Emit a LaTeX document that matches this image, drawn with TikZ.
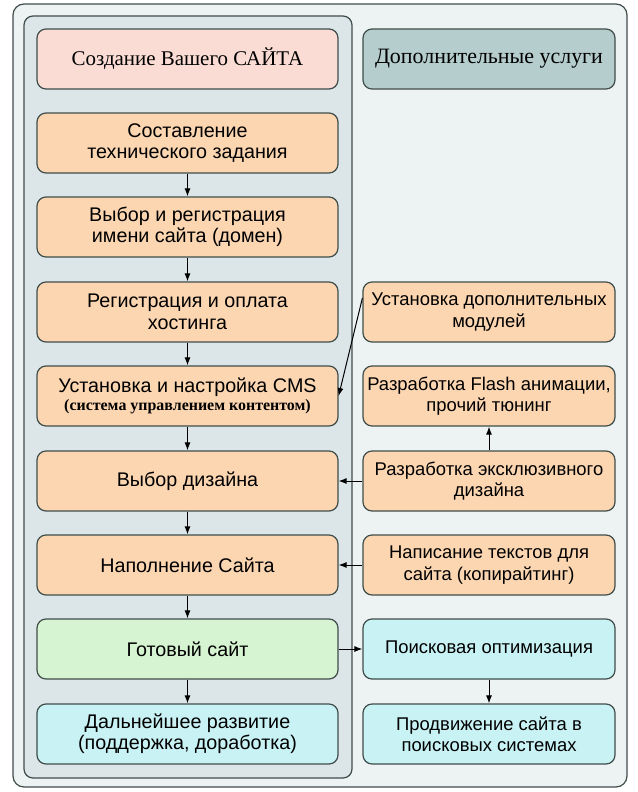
\documentclass[tikz,border=0pt]{standalone}
\usepackage{fontspec}
\setmainfont{Liberation Sans}
\newfontfamily\headfont{Liberation Serif}
\usetikzlibrary{arrows.meta}

\definecolor{outerfill}{HTML}{EDF2F3}
\definecolor{panelfill}{HTML}{DCE6E8}
\definecolor{frame}{HTML}{3F4D4B}
\definecolor{pinkfill}{HTML}{FADCD4}
\definecolor{greyfill}{HTML}{B6CDCD}
\definecolor{peachfill}{HTML}{FCD6B1}
\definecolor{greenfill}{HTML}{D6F4D1}
\definecolor{cyanfill}{HTML}{C9F2F5}

\tikzset{
  box/.style={draw=frame, line width=1.2bp, rounded corners=9bp,
    minimum height=60bp, align=center, text=black,
    font=\fontsize{19.8}{21.5}\selectfont},
  leftbox/.style={box, minimum width=301bp},
  rightbox/.style={box, minimum width=252bp, font=\fontsize{18.5}{21.5}\selectfont}
}

\begin{document}
\begin{tikzpicture}[x=1bp,y=-1bp]

      \useasboundingbox (0,0) rectangle (638,792);

      % background panels
      \draw[frame, line width=1.2bp, fill=outerfill, rounded corners=11bp] (13,4) rectangle (627,787);
      \draw[frame, line width=1.2bp, fill=panelfill, rounded corners=9bp] (24,16) rectangle (352,778);

      \begin{scope}[every node/.style={leftbox, fill=peachfill}]
        \node[fill=pinkfill, font=\headfont\fontsize{21}{23}\selectfont] (1) at (187.5,59) {Создание Вашего САЙТА};
        \node (2) at (187.5,143) {Составление\\технического задания};
        \node (3) at (187.5,227) {Выбор и регистрация\\имени сайта (домен)};
        \node (4) at (187.5,312) {Регистрация и оплата\\хостинга};
        \node (5) at (187.5,396) {Установка и настройка CMS\\[-3bp]{\headfont\bfseries\fontsize{16}{18}\selectfont(система управлением контентом)}};
        \node (6) at (187.5,481) {Выбор дизайна};
        \node (7) at (187.5,565) {Наполнение Сайта};
        \node[fill=greenfill] (8) at (187.5,649) {Готовый сайт};
        \node[fill=cyanfill] (9) at (187.5,734) {Дальнейшее развитие\\(поддержка, доработка)};
      \end{scope}

      \begin{scope}[every node/.style={rightbox, fill=peachfill}]
        \node[fill=greyfill, font=\headfont\fontsize{22}{24}\selectfont] (10) at (489,59) {Дополнительные услуги};
        \node (11) at (489,312) {Установка дополнительных\\модулей};
        \node (12) at (489,396) {Разработка Flash анимации,\\прочий тюнинг};
        \node (13) at (489,481) {Разработка эксклюзивного\\дизайна};
        \node (14) at (489,565) {Написание текстов для\\сайта (копирайтинг)};
        \node[fill=cyanfill] (15) at (489,649) {Поисковая оптимизация};
        \node[fill=cyanfill] (16) at (489,734) {Продвижение сайта в\\поисковых системах};
      \end{scope}

      \begin{scope}[every edge/.style={draw=black, line width=1bp, -{Latex[length=8bp,width=6bp]}}]
        \path (2)  edge (3);
        \path (3)  edge (4);
        \path (4)  edge (5);
        \path (5)  edge (6);
        \path (6)  edge (7);
        \path (7)  edge (8);
        \path (8)  edge (9);
        \path ([yshift=14bp]11.west) edge (5.east);
        \path (13) edge (6);
        \path (13) edge (12);
        \path (14) edge (7);
        \path (8)  edge (15);
        \path (15) edge (16);
      \end{scope}

    \end{tikzpicture}
\end{document}
